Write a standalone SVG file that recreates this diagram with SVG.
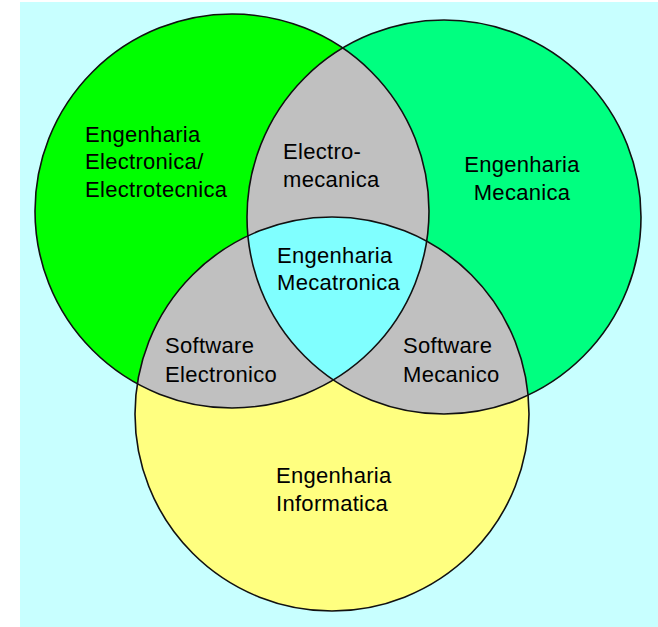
<svg xmlns="http://www.w3.org/2000/svg" width="658" height="627" viewBox="0 0 658 627">
<defs>
<style>
.lbl{font-family:"Liberation Sans",Arial,sans-serif;font-size:22px;letter-spacing:0.3px;fill:#000}
.edge{fill:none;stroke:#111;stroke-width:1.6}
</style>
<circle id="cL" cx="232" cy="211" r="197"/>
<circle id="cR" cx="444" cy="217" r="197"/>
<circle id="cB" cx="332" cy="414" r="197"/>
<clipPath id="clipL"><use href="#cL"/></clipPath>
<clipPath id="clipR"><use href="#cR"/></clipPath>
<clipPath id="clipB"><use href="#cB"/></clipPath>
</defs>
<rect x="0" y="0" width="658" height="627" fill="#ffffff"/>
<rect x="20" y="2" width="638" height="625" fill="#c8ffff"/>
<g id="eng-electronica">
<use href="#cL" fill="#00ff00"/>
</g>
<g id="eng-mecanica">
<use href="#cR" fill="#00ff80"/>
</g>
<g id="eng-informatica">
<use href="#cB" fill="#ffff80"/>
</g>
<g id="electromecanica" clip-path="url(#clipL)">
<use href="#cR" fill="#c0c0c0"/>
</g>
<g id="software-electronico" clip-path="url(#clipL)">
<use href="#cB" fill="#c0c0c0"/>
</g>
<g id="software-mecanico" clip-path="url(#clipR)">
<use href="#cB" fill="#c0c0c0"/>
</g>
<g id="mecatronica" clip-path="url(#clipL)">
<g clip-path="url(#clipR)">
<use href="#cB" fill="#80ffff"/>
</g>
</g>
<g id="outlines">
<use href="#cL" class="edge"/>
<use href="#cR" class="edge"/>
<use href="#cB" class="edge"/>
</g>
<g id="labels">
<text class="lbl" x="85" y="142">Engenharia</text>
<text class="lbl" x="85" y="169">Electronica/</text>
<text class="lbl" x="85" y="197">Electrotecnica</text>
<text class="lbl" x="283" y="159">Electro-</text>
<text class="lbl" x="283" y="187">mecanica</text>
<text class="lbl" x="522" y="172" text-anchor="middle">Engenharia</text>
<text class="lbl" x="522" y="200" text-anchor="middle">Mecanica</text>
<text class="lbl" x="277" y="263">Engenharia</text>
<text class="lbl" x="277" y="290">Mecatronica</text>
<text class="lbl" x="165" y="353">Software</text>
<text class="lbl" x="165" y="382">Electronico</text>
<text class="lbl" x="403" y="353">Software</text>
<text class="lbl" x="403" y="382">Mecanico</text>
<text class="lbl" x="276" y="483">Engenharia</text>
<text class="lbl" x="276" y="511">Informatica</text>
</g>
</svg>
